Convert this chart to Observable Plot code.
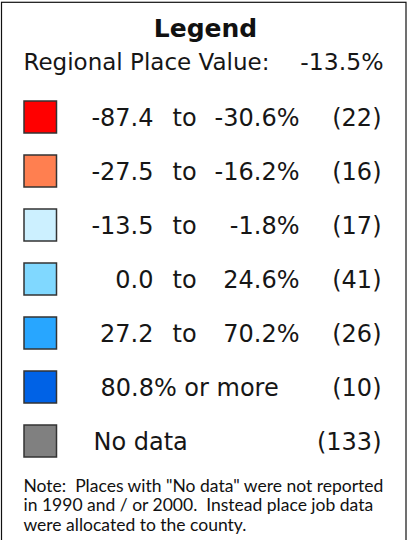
<!DOCTYPE html>
<html>
<head>
<meta charset="utf-8">
<script src="https://cdn.jsdelivr.net/npm/d3@7"></script>
<script src="https://cdn.jsdelivr.net/npm/@observablehq/plot@0.6"></script>
<style>
  html, body { margin: 0; padding: 0; background: white; }
  #chart { width: 410px; height: 540px; overflow: hidden; }
</style>
</head>
<body>
<div id="chart"></div>
<script>
const title = "Legend";
const subtitleLabel = "Regional Place Value:";
const regionalValue = "-13.5%";
const lows = ["-87.4", "-27.5", "-13.5", "0.0", "27.2"];
const highs = ["-30.6%", "-16.2%", "-1.8%", "24.6%", "70.2%"];
const specialLabels = ["80.8% or more", "No data"];
const counts = [22, 16, 17, 41, 26, 10, 133];
const colors = ["#ff0000", "#ff7f50", "#ccf0ff", "#80d8ff", "#28a6ff", "#0062e6", "#808080"];
const note = 'Note:  Places with "No data" were not reported\nin 1990 and / or 2000.  Instead place job data\nwere allocated to the county.';

const rows = counts.map((c, i) => ({
  key: i,
  low: lows[i] ?? null,
  high: highs[i] ?? null,
  special: i >= lows.length ? specialLabels[i - lows.length] : null,
  count: `(${c})`,
  color: colors[i]
}));
const ranged = rows.filter(d => d.low !== null);
const keys = rows.map(d => d.key);

const rowFont = {fontFamily: "DejaVu Sans", fontSize: 24, fill: "#161616"};

const plot = Plot.plot({
  width: 410,
  height: 540,
  margin: 0,
  x: {domain: [0, 410], axis: null},
  y: {type: "band", domain: keys, range: [99, 458.5], paddingInner: 0.4137, paddingOuter: 0, axis: null},
  color: {type: "identity"},
  marks: [
    Plot.frame({stroke: "#111", strokeWidth: 1.2, insetLeft: 1, insetTop: 1.8, insetRight: 4.5, insetBottom: -10}),
    Plot.text([title], {text: d => d, frameAnchor: "top", lineAnchor: "top", dy: 18.5, fontFamily: "DejaVu Sans", fontWeight: "bold", fontSize: 25, fill: "#111"}),
    Plot.text([subtitleLabel], {text: d => d, frameAnchor: "top-left", textAnchor: "start", lineAnchor: "top", dx: 23, dy: 53, fontFamily: "DejaVu Sans", fontSize: 23, fill: "#161616"}),
    Plot.text([regionalValue], {text: d => d, frameAnchor: "top-right", textAnchor: "end", lineAnchor: "top", dx: -27, dy: 53, fontFamily: "DejaVu Sans", fontSize: 23.5, fill: "#161616"}),
    Plot.barX(rows, {x1: 24, x2: 56.5, y: "key", fill: "color", stroke: "#333", strokeWidth: 1.5}),
    Plot.text(ranged, {x: 153, y: "key", text: "low", textAnchor: "end", dy: 1, ...rowFont}),
    Plot.text(ranged, {x: 172, y: "key", text: () => "to", textAnchor: "start", dy: 1, ...rowFont}),
    Plot.text(ranged, {x: 299, y: "key", text: "high", textAnchor: "end", dy: 1, ...rowFont}),
    Plot.text(rows.filter(d => d.special === specialLabels[0]), {x: 100, y: "key", text: "special", textAnchor: "start", dy: 1, ...rowFont}),
    Plot.text(rows.filter(d => d.special === specialLabels[1]), {x: 93, y: "key", text: "special", textAnchor: "start", dy: 1, ...rowFont}),
    Plot.text(rows, {x: 381, y: "key", text: "count", textAnchor: "end", dy: 1, ...rowFont}),
    Plot.text([note], {text: d => d, frameAnchor: "top-left", textAnchor: "start", lineAnchor: "top", dx: 23, dy: 477.6, lineHeight: 1.114, fontFamily: "Lato", fontSize: 17.5, fill: "#111"})
  ]
});
document.getElementById("chart").appendChild(plot);
</script>
</body>
</html>
